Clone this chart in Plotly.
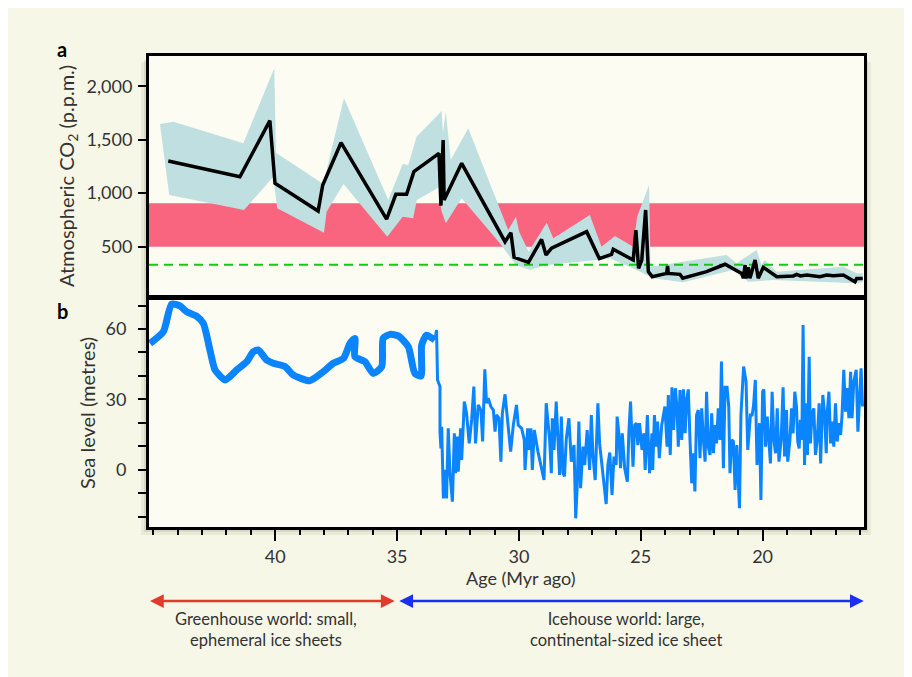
import plotly.graph_objects as go

# ---------------- data ----------------
# Panel a: atmospheric CO2 (p.p.m.) vs age (Myr ago)
co2_age = [44.39, 41.45, 40.22, 40.01, 38.24, 38.05, 37.30, 35.43, 35.05, 34.61, 34.31,
           33.28, 33.20, 33.11, 33.07, 32.35, 30.57, 30.33, 30.20, 29.61, 29.07, 28.89,
           28.66, 27.22, 26.70, 26.20, 26.13, 25.31, 25.20, 25.09, 24.96, 24.80, 24.69,
           24.53, 23.94, 23.90, 23.87, 23.39, 23.28, 22.30, 21.54, 20.86, 20.79, 20.72,
           20.68, 20.59, 20.52, 20.31, 20.18, 19.97, 19.42, 19.10, 18.74, 18.60, 18.45,
           18.19, 17.95, 17.65, 17.37, 17.10, 16.69, 16.21, 16.14, 15.89]
co2_ppm = [1301, 1154, 1678, 1092, 833, 1077, 1472, 758, 989, 989, 1201,
           1373, 883, 1497, 936, 1279, 546, 631, 400, 353, 568, 422,
           485, 640, 388, 428, 475, 375, 655, 297, 375, 843, 266,
           219, 250, 320, 250, 241, 204, 266, 335, 250, 204, 328,
           204, 307, 204, 375, 204, 307, 219, 226, 226, 241, 226,
           235, 226, 219, 235, 228, 235, 172, 203, 203]

# uncertainty envelope
band_up_age = [44.73, 44.18, 41.31, 40.04, 39.97, 38.03, 37.18, 35.36, 34.77, 34.54, 34.20,
               33.17, 33.12, 33.00, 32.80, 32.08, 30.44, 30.12, 29.99, 29.60, 28.86, 28.59,
               27.09, 26.61, 26.06, 25.31, 25.15, 24.66, 24.60, 23.67, 21.48, 21.07, 20.25,
               20.05, 19.91, 19.43, 16.69, 16.14, 15.89]
band_up_ppm = [1647, 1669, 1466, 2168, 1379, 1086, 1887, 936, 1273, 1263, 1528,
               1769, 1560, 1762, 1310, 1607, 656, 780, 640, 453, 724, 578,
               796, 500, 600, 500, 780, 1077, 312, 344, 422, 344, 469,
               330, 375, 266, 312, 250, 250]
band_lo_age = [44.35, 41.28, 40.08, 39.92, 38.00, 37.89, 37.20, 35.40, 34.77, 34.34, 34.19,
               33.24, 33.20, 33.00, 32.35, 30.78, 30.12, 29.55, 28.86, 26.81, 26.27, 25.17,
               24.49, 23.26, 21.21, 20.59, 19.57, 16.14, 15.89]
band_lo_ppm = [983, 843, 1154, 859, 630, 827, 1086, 593, 780, 765, 936,
               1061, 850, 718, 952, 531, 328, 281, 328, 375, 391, 281,
               204, 166, 281, 172, 188, 157, 170]

glaciation_threshold = [500, 905]   # p.p.m. (pink band)
present_co2 = 330                   # p.p.m. (green dashed line)

# Panel b: sea level (metres)
sea_green_age = [45.14, 44.59, 44.25, 43.91, 43.64, 43.23, 42.95, 42.68, 42.47, 42.06, 41.86,
                 41.58, 41.17, 40.90, 40.70, 40.35, 40.08, 39.60, 39.26, 38.58, 38.03, 37.62,
                 37.20, 36.93, 36.73, 36.73, 36.32, 35.98, 35.63, 35.57, 35.29, 34.95, 34.54,
                 34.27, 34.02, 33.99, 33.79, 33.45]
sea_green_m = [53.9, 58.9, 70.6, 69.8, 67.4, 65.5, 62.4, 51.1, 42.6, 38.3, 39.7,
               42.6, 46.1, 50.3, 51.1, 46.8, 45.4, 44.0, 40.4, 38.0, 41.8, 45.4,
               47.5, 53.9, 56.0, 48.2, 46.1, 41.1, 44.0, 56.0, 57.7, 57.1, 52.5,
               41.1, 40.0, 53.2, 57.4, 55.3]

sea_ice_age = [33.45, 33.38, 33.34, 33.24, 33.24, 33.20, 33.17, 33.10, 33.04, 32.97, 32.90,
               32.83, 32.73, 32.65, 32.60, 32.53, 32.49, 32.39, 32.35, 32.24, 32.15, 32.04,
               31.94, 31.85, 31.78, 31.67, 31.56, 31.49, 31.40, 31.33, 31.26, 31.15, 31.05,
               30.98, 30.92, 30.82, 30.74, 30.68, 30.57, 30.46, 30.34, 30.23, 30.10, 30.03,
               29.89, 29.78, 29.75, 29.64, 29.58, 29.51, 29.45, 29.37, 29.27,
               29.22, 28.97, 28.88, 28.74, 28.67, 28.63, 28.56, 28.47, 28.40, 28.33, 28.26,
               28.19, 28.13, 28.06, 27.95, 27.85, 27.74, 27.67, 27.61, 27.54, 27.47, 27.37,
               27.30, 27.20, 27.10, 27.03, 26.96, 26.87, 26.76, 26.69, 26.42, 26.35, 26.27,
               26.18, 26.10, 26.01, 25.97, 25.90, 25.83, 25.76, 25.66, 25.55, 25.49, 25.42,
               25.32, 25.25, 25.18, 25.12, 25.05, 24.95, 24.87, 24.82, 24.73, 24.64, 24.54,
               24.51, 24.44, 24.37, 24.31, 24.24, 24.14, 24.06, 24.01, 23.92, 23.87, 23.79,
               23.72, 23.65, 23.58, 23.51, 23.46, 23.39, 23.32, 23.25, 23.18, 23.12, 23.05,
               22.98, 22.91, 22.84, 22.78, 22.71, 22.64, 22.57, 22.50, 22.43, 22.36, 22.30,
               22.23, 22.16, 22.09, 22.02, 21.95, 21.89, 21.82, 21.75, 21.69, 21.61, 21.54,
               21.46, 21.39, 21.34, 21.27, 21.20, 21.13, 21.06, 20.95, 20.89, 20.78, 20.68,
               20.61, 20.50, 20.43, 20.37, 20.30, 20.23, 20.13, 20.07, 20.00,
               19.95, 19.88, 19.81, 19.74, 19.68, 19.61, 19.54, 19.47, 19.40, 19.33, 19.24,
               19.16, 19.10, 19.02, 18.97, 18.88, 18.81, 18.75, 18.68, 18.61, 18.56, 18.50,
               18.45, 18.39, 18.34, 18.28, 18.23, 18.16, 18.09, 18.04, 17.97, 17.90, 17.83,
               17.76, 17.68, 17.62, 17.53, 17.46, 17.39, 17.35, 17.28, 17.21, 17.15, 17.08,
               17.01, 16.94, 16.87, 16.80, 16.74, 16.67, 16.60, 16.53, 16.46, 16.39, 16.33,
               16.26, 16.16, 16.09, 16.02, 15.96, 15.90]
sea_ice_m = [55.3, 59.6, 38.3, 35.5, 16.3, 9.2, 18.4, -12.1, 0.0, -12.1, 17.7,
             -1.4, -13.5, 15.6, -1.4, 14.2, -0.7, 17.7, 4.3, 29.1, 24.1, 11.3,
             21.3, 35.5, 11.3, 27.7, 25.5, 12.1, 42.8, 28.4, 30.5, 27.0, 25.5,
             16.3, 23.4, 22.0, 3.5, 24.1, 32.2, 21.3, 7.8, 19.1, 27.7, 19.1,
             17.7, 12.8, 0.0, 17.7, 8.5, 17.7, 0.0, 17.0, 11.3,
             7.8, -4.3, 28.4, 12.8, -1.4, 22.0, 8.5, 29.1, 15.6, -2.1, 22.7,
             -1.4, -2.8, 12.8, 22.0, 3.5, 10.6, -20.6, -7.1, 20.6, -7.8, 9.9,
             2.1, 17.0, 0.0, 23.4, 5.7, -4.3, 28.4, 11.3, -14.5, 2.1, 7.4,
             -10.6, 5.7, 2.1, 22.7, 15.6, 0.7, 15.6, 0.7, -5.0, 15.6, 29.1,
             1.4, 19.1, 19.9, 10.6, 19.9, 8.5, 15.6, 0.0, 23.4, -1.4, 15.6,
             0.0, 23.4, 9.9, 20.6, 5.0, 19.1, 23.4, 27.0, 9.9, 31.9, 6.4,
             35.2, 17.0, 34.8, 25.5, 9.9, 34.0, 12.8, 34.3, 15.6, 29.8, 34.3,
             12.8, -5.7, 7.1, -9.2, 23.4, 25.5, 5.0, 26.2, 12.8, 3.5, 33.3,
             9.9, 6.4, 24.1, 7.1, 19.1, 11.3, 26.2, 12.8, 46.1, 0.7, 35.2,
             35.2, 27.0, -1.4, 12.8, 12.1, -8.5, 10.6, -16.3, 23.4, 44.0, 37.6,
             8.5, 23.4, 23.4, 27.7, 38.3, 2.1, 19.9, -12.8, 33.3,
             34.3, 9.9, 22.7, 9.2, 2.8, 33.3, 12.8, 7.1, 26.2, 3.5, 12.8,
             35.2, 5.7, 25.5, 3.5, 12.8, 26.2, 15.6, 33.3, 27.0, 12.1, 9.2,
             21.3, 12.8, 61.7, 2.1, 28.4, 6.4, 48.2, 11.3, 24.1, 26.2, 6.4,
             12.8, 28.4, 2.8, 31.9, 24.1, 7.1, 24.1, 33.3, 11.3, 20.6, 9.9,
             28.4, 12.1, 19.9, 14.9, 23.4, 42.6, 24.8, 34.8, 22.0, 41.8, 22.0,
             37.6, 42.6, 16.3, 28.4, 43.3, 27.0]

x_ticks = [40, 35, 30, 25, 20]
co2_ticks = [500, 1000, 1500, 2000]
co2_ticktext = ["500", "1,000", "1,500", "2,000"]
sea_ticks = [0, 30, 60]

greenhouse_span = [45.2, 35.1]
icehouse_span = [34.97, 15.85]

# ---------------- geometry / style ----------------
W, H = 912, 677
OFF = 8  # page (body) margin in the screenshot
X_RANGE = [45.18, 15.84]
CO2_RANGE = [29, 2283]
SEA_RANGE = [-24.3, 73.2]

def fx(px):
    return (px - OFF) / W

def fy(py):
    return 1 - (py - OFF) / H

CREAM = "#f7f7e7"
PLOTBG = "#fcfcf3"
BAND = "#bfdfe0"
PINK = "#f9647f"
SEA = "#0a84ff"
TXT = "#333333"
FONT = "Lato, Open Sans, sans-serif"

fig = go.Figure()

# CO2 envelope
fig.add_trace(go.Scatter(
    x=band_up_age + band_lo_age[::-1],
    y=band_up_ppm + band_lo_ppm[::-1],
    fill="toself", fillcolor=BAND, line=dict(width=0), mode="lines",
    hoverinfo="skip", xaxis="x", yaxis="y", showlegend=False))
# present-day CO2
fig.add_trace(go.Scatter(
    x=X_RANGE, y=[present_co2, present_co2], mode="lines",
    line=dict(color="#14c814", width=2, dash="9px,6px"),
    xaxis="x", yaxis="y", showlegend=False))
# CO2 curve
fig.add_trace(go.Scatter(
    x=co2_age, y=co2_ppm, mode="lines",
    line=dict(color="black", width=3.5), xaxis="x", yaxis="y", showlegend=False))

# sea level
fig.add_trace(go.Scatter(
    x=sea_green_age, y=sea_green_m, mode="lines",
    line=dict(color=SEA, width=7, shape="spline", smoothing=0.6),
    xaxis="x2", yaxis="y2", showlegend=False))
fig.add_trace(go.Scatter(
    x=sea_ice_age, y=sea_ice_m, mode="lines",
    line=dict(color=SEA, width=3),
    xaxis="x2", yaxis="y2", showlegend=False))

shapes = [
    # soft shadow
    dict(type="rect", xref="paper", yref="paper", x0=fx(141), x1=fx(871), y0=fy(535), y1=fy(62),
         fillcolor="rgba(90,90,70,0.08)", line=dict(width=0), layer="below"),
    dict(type="rect", xref="paper", yref="paper", x0=fx(144), x1=fx(868), y0=fy(532), y1=fy(60),
         fillcolor="rgba(90,90,70,0.12)", line=dict(width=0), layer="below"),
    # plot area background
    dict(type="rect", xref="paper", yref="paper", x0=fx(149), x1=fx(864), y0=fy(527), y1=fy(56),
         fillcolor=PLOTBG, line=dict(width=0), layer="below"),
    # glaciation threshold band
    dict(type="rect", xref="x", yref="y", x0=X_RANGE[0], x1=X_RANGE[1],
         y0=glaciation_threshold[0], y1=glaciation_threshold[1],
         fillcolor=PINK, line=dict(width=0), layer="below"),
]

tickfont = dict(family=FONT, size=18, color=TXT)
axline = dict(showline=True, linecolor="black", linewidth=3, mirror=True,
              showgrid=False, zeroline=False)

fig.update_layout(
    width=W, height=H,
    margin=dict(l=0, r=0, t=0, b=0),
    paper_bgcolor=CREAM, plot_bgcolor="rgba(0,0,0,0)",
    showlegend=False,
    shapes=shapes,
    xaxis=dict(domain=[fx(149), fx(864)], range=X_RANGE, anchor="y",
               showticklabels=False, ticks="", **axline),
    yaxis=dict(domain=[fy(297), fy(56)], range=CO2_RANGE, anchor="x",
               tickvals=co2_ticks, ticktext=co2_ticktext, ticks="outside",
               ticklen=8, tickwidth=2, tickcolor="black", tickfont=tickfont,
               ticklabelstandoff=2, **axline),
    xaxis2=dict(domain=[fx(149), fx(864)], range=X_RANGE, anchor="y2",
                tickvals=x_ticks, ticks="outside", ticklen=11, tickwidth=2,
                tickcolor="black", tickfont=tickfont,
                minor=dict(dtick=1, tick0=0, ticks="outside", ticklen=5,
                           tickwidth=2, tickcolor="black"),
                **axline),
    yaxis2=dict(domain=[fy(527), fy(298)], range=SEA_RANGE, anchor="x2",
                tickvals=sea_ticks, ticks="outside", ticklen=8, tickwidth=2,
                tickcolor="black", tickfont=tickfont, ticklabelstandoff=8,
                minor=dict(dtick=10, tick0=0, ticks="outside", ticklen=8,
                           tickwidth=2, tickcolor="black"),
                **axline),
)

def label(text, x, y, size, angle=0, color=TXT):
    return dict(text=text, xref="paper", yref="paper", x=fx(x), y=fy(y),
                xanchor="center", yanchor="middle", textangle=angle,
                showarrow=False, font=dict(family=FONT, size=size, color=color))

ann = [
    label("<b>a</b>", 62, 49, 20, color="black"),
    label("<b>b</b>", 62, 311, 20, color="black"),
    label("Atmospheric CO<sub>2</sub> (p.p.m.)", 67, 176, 20, angle=-90),
    label("Sea level (metres)", 87, 413, 20, angle=-90),
    label("Age (Myr ago)", 521, 578, 18),
    label("Greenhouse world: small,<br>ephemeral ice sheets", 266, 629, 16.5),
    label("Icehouse world: large,<br>continental-sized ice sheet", 626, 629, 16.5),
]
# arrows
for span, col in [(greenhouse_span, "#e23a2c"), (icehouse_span, "#1c2ef0")]:
    ann.append(dict(text="", xref="x2", yref="paper", x=span[1], y=fy(601),
                    axref="x2", ayref="pixel", ax=span[0], ay=0,
                    showarrow=True, arrowhead=2, startarrowhead=2, arrowside="end+start",
                    arrowsize=1.1, startarrowsize=1.1, arrowwidth=2.5, arrowcolor=col,
                    standoff=0, startstandoff=0))
fig.update_layout(annotations=ann)

fig.write_html("out.html")
